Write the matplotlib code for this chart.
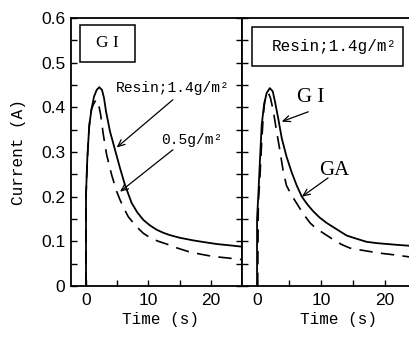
import matplotlib
matplotlib.use("Agg")
import matplotlib.pyplot as plt
from matplotlib.patches import Rectangle
from matplotlib.ticker import FixedLocator, FixedFormatter

# values (time in s, current in A)
# left panel, GI substrate
gi_t = [0, 0, 0.21, 0.53, 0.91, 1.28, 1.71, 2.13, 2.56, 2.88, 3.2, 3.84, 4.64,
        5.44, 6.24, 7.3, 8.2, 9.17, 10.2, 11.3, 12.4, 13.4, 15.0, 17.2, 19.0,
        20.9, 23.0, 25.0]
gi_14 = [0, 0.204, 0.286, 0.361, 0.398, 0.424, 0.439, 0.445, 0.439, 0.421,
         0.391, 0.346, 0.305, 0.264, 0.226, 0.186, 0.165, 0.148, 0.136, 0.126,
         0.119, 0.114, 0.108, 0.102, 0.098, 0.094, 0.091, 0.088]
gi_05_t = [0, 0, 0.2, 0.5, 0.85, 1.17, 1.6, 1.97, 2.35, 2.77, 3.3, 4.1, 4.9,
           5.44, 6.1, 6.77, 8.0, 9.17, 10.5, 11.8, 12.9, 14.6, 16.4, 18.4,
           20.4, 22.5, 25.0]
gi_05 = [0, 0.2, 0.28, 0.355, 0.395, 0.406, 0.417, 0.41, 0.383, 0.339, 0.294,
         0.249, 0.212, 0.193, 0.173, 0.155, 0.134, 0.118, 0.106, 0.099, 0.094,
         0.085, 0.077, 0.071, 0.066, 0.063, 0.059]

# right panel, resin 1.4 g/m2
r_gi_t = [0, 0, 0.2, 0.47, 0.73, 1.1, 1.5, 2.0, 2.45, 2.8, 3.3, 3.86, 4.6, 5.4,
          6.2, 7.0, 7.9, 8.8, 9.8, 10.9, 12.0, 13.0, 14.0, 15.5, 17.1, 18.7,
          20.3, 22.0, 23.9, 25.2]
r_gi = [0, 0.15, 0.204, 0.286, 0.361, 0.406, 0.432, 0.443, 0.436, 0.413, 0.376,
        0.331, 0.29, 0.255, 0.225, 0.2, 0.182, 0.167, 0.153, 0.141, 0.131,
        0.122, 0.113, 0.106, 0.099, 0.096, 0.094, 0.092, 0.09, 0.089]
r_ga_t = [0.1, 0.2, 0.47, 0.73, 0.98, 1.25, 1.77, 2.1, 2.55, 2.97, 3.6, 4.1,
          4.6, 5.4, 6.2, 7.2, 8.3, 9.3, 10.4, 11.9, 13.2, 14.5, 16.0, 17.7,
          19.5, 21.3, 23.9, 25.2]
r_ga = [0, 0.185, 0.249, 0.323, 0.383, 0.421, 0.432, 0.421, 0.391, 0.354,
        0.301, 0.256, 0.225, 0.203, 0.185, 0.162, 0.141, 0.128, 0.118, 0.104,
        0.093, 0.085, 0.081, 0.077, 0.073, 0.070, 0.065, 0.063]

x_ticks = [0, 10, 20]
x_labels = ["0", "10", "20"]
y_ticks = [0, 0.1, 0.2, 0.3, 0.4, 0.5, 0.6]
y_labels = ["0", "0.1", "0.2", "0.3", "0.4", "0.5", "0.6"]

W, H = 410, 338
fig = plt.figure(figsize=(W / 100, H / 100), dpi=100)
fig.patch.set_facecolor("white")

top_px, bot_px = 18, 286
ax1 = fig.add_axes([71 / W, (H - bot_px) / H, 171.25 / W, (bot_px - top_px) / H])
ax2 = fig.add_axes([242 / W, (H - bot_px) / H, 176.3 / W, (bot_px - top_px) / H])

label_font = "Liberation Mono"
tick_font = "Liberation Sans"
serif_font = "Liberation Serif"

line_kw = dict(color="black", lw=1.3)
dash_kw = dict(color="black", lw=1.2, dashes=(8, 5))
arrow_kw = dict(arrowstyle="->,head_length=0.5,head_width=0.22", color="black",
                lw=0.9, shrinkA=0, shrinkB=0)

for ax in (ax1, ax2):
    for sp in ax.spines.values():
        sp.set_linewidth(1.3)
    ax.set_ylim(0, 0.6)
    ax.xaxis.set_major_locator(FixedLocator(x_ticks))
    ax.xaxis.set_minor_locator(FixedLocator([5, 15, 25]))
    ax.yaxis.set_major_locator(FixedLocator(y_ticks))
    ax.yaxis.set_minor_locator(FixedLocator([0.05, 0.15, 0.25, 0.35, 0.45, 0.55]))
    ax.tick_params(which="both", direction="in", length=4, width=1,
                   top=False, right=True)
    ax.xaxis.set_major_formatter(FixedFormatter(x_labels))
    for lab in ax.get_xticklabels():
        lab.set_fontfamily(tick_font)
        lab.set_fontsize(12.5)
    ax.tick_params(axis="x", pad=5)
    ax.set_xlabel("Time (s)", fontfamily=label_font, fontsize=11.5)

ax1.set_xlim(-2.4, 25.0)
ax2.set_xlim(-2.35, 25.2)

ax1.yaxis.set_major_formatter(FixedFormatter(y_labels))
for lab in ax1.get_yticklabels():
    lab.set_fontfamily(tick_font)
    lab.set_fontsize(12.5)
ax1.tick_params(axis="y", pad=4)
ax2.set_yticklabels([])
ax1.set_ylabel("Current (A)", fontfamily=label_font, fontsize=11.5)
ax1.yaxis.set_label_coords(-0.262, 0.5)
ax1.xaxis.set_label_coords(0.52, -0.098)
ax2.xaxis.set_label_coords(0.55, -0.098)

# left panel: GI, two resin weights
ax1.plot(gi_t, gi_14, **line_kw)
ax1.plot(gi_05_t, gi_05, **dash_kw)
ax1.add_patch(Rectangle((0.053, 0.836), 0.321, 0.138, transform=ax1.transAxes,
                        fc="white", ec="black", lw=1.1))
ax1.text(0.21, 0.905, "G I", transform=ax1.transAxes, fontfamily=serif_font,
         fontsize=12.5, ha="center", va="center")
ax1.annotate("", xy=(4.9, 0.31), xytext=(13.9, 0.417), arrowprops=arrow_kw)
ax1.text(13.9, 0.443, "Resin;1.4g/m²", fontfamily=label_font, fontsize=10.5,
         ha="center", va="center")
ax1.annotate("", xy=(5.44, 0.211), xytext=(13.9, 0.305), arrowprops=arrow_kw)
ax1.text(17.0, 0.326, "0.5g/m²", fontfamily=label_font, fontsize=10.5,
         ha="center", va="center")

# right panel: GI vs GA at 1.4 g/m2
ax2.plot(r_gi_t, r_gi, **line_kw)
ax2.plot(r_ga_t, r_ga, **dash_kw)
ax2.add_patch(Rectangle((0.057, 0.821), 0.856, 0.145, transform=ax2.transAxes,
                        fc="white", ec="black", lw=1.1))
ax2.text(0.522, 0.894, "Resin;1.4g/m²", transform=ax2.transAxes,
         fontfamily=label_font, fontsize=11.5, ha="center", va="center")
ax2.annotate("", xy=(3.85, 0.368), xytext=(8.0, 0.39), arrowprops=arrow_kw)
ax2.text(8.4, 0.421, "G I", fontfamily=serif_font, fontsize=15,
         ha="center", va="center")
ax2.annotate("", xy=(7.0, 0.2), xytext=(11.1, 0.242), arrowprops=arrow_kw)
ax2.text(12.0, 0.258, "GA", fontfamily=serif_font, fontsize=15,
         ha="center", va="center")

fig.savefig("out.png", dpi=100, facecolor="white")
plt.close(fig)
